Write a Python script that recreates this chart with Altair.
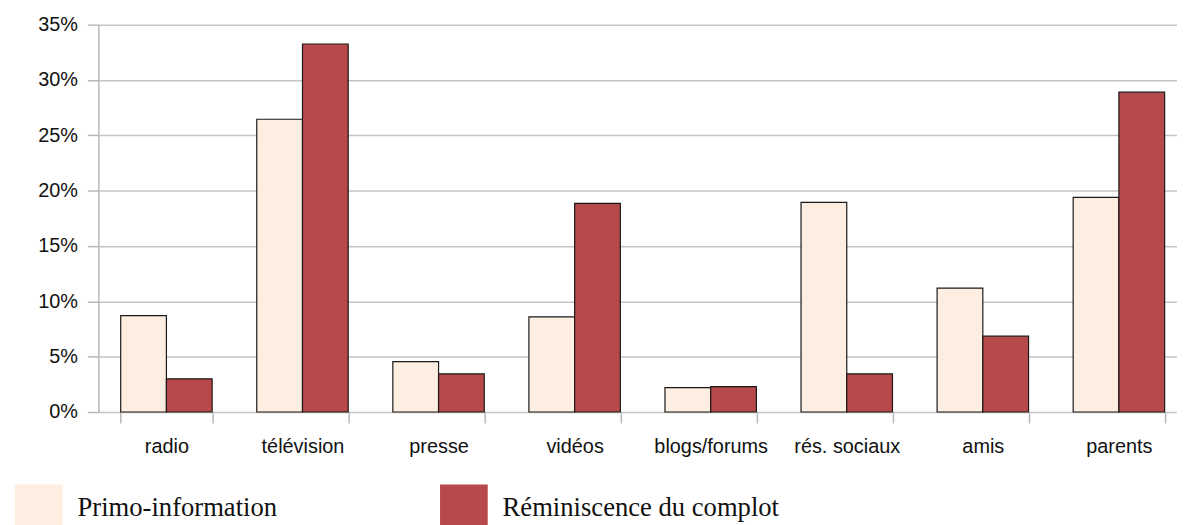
import altair as alt
import pandas as pd

categories = ["radio", "télévision", "presse", "vidéos", "blogs/forums", "rés. sociaux", "amis", "parents"]
series = ["Primo-information", "Réminiscence du complot"]
primo = [8.7, 26.45, 4.55, 8.6, 2.2, 18.95, 11.2, 19.4]
reminiscence = [3.0, 33.25, 3.45, 18.85, 2.3, 3.45, 6.85, 28.9]
y_ticks = [0, 5, 10, 15, 20, 25, 30, 35]
colors = ["#fdeee1", "#b8494a"]

rows = []
for c, a, b in zip(categories, primo, reminiscence):
    rows.append({"cat": c, "serie": series[0], "val": a})
    rows.append({"cat": c, "serie": series[1], "val": b})
df = pd.DataFrame(rows)

chart = alt.Chart(df).mark_bar(stroke="#1a1a1a", strokeWidth=1.2).encode(
    x=alt.X("cat:N", sort=categories, title=None,
            scale=alt.Scale(range=[0, 1096], paddingInner=0.328, paddingOuter=0.164),
            axis=alt.Axis(labelAngle=0, domain=False, ticks=True, tickBand="extent",
                          tickSize=11, tickColor="#b8b8b8", tickWidth=1.5,
                          labelFont="Liberation Sans", labelFontSize=20, labelColor="#111111",
                          labelPadding=14, grid=False)),
    xOffset=alt.XOffset("serie:N", sort=series),
    y=alt.Y("val:Q", title=None,
            scale=alt.Scale(domain=[0, 35], nice=False),
            axis=alt.Axis(values=y_ticks, labelExpr="datum.value + '%'",
                          domain=True, domainColor="#b8b8b8", domainWidth=1.5,
                          tickSize=11, tickColor="#b8b8b8", tickWidth=1.5,
                          grid=True, gridColor="#c4c4c4", gridWidth=1.5,
                          labelFont="Liberation Sans", labelFontSize=20, labelColor="#111111",
                          labelPadding=10)),
    color=alt.Color("serie:N", sort=series,
                    scale=alt.Scale(domain=series, range=colors),
                    legend=alt.Legend(title=None, orient="none", direction="horizontal",
                                      legendX=-84, legendY=463, padding=0,
                                      symbolType="square", symbolSize=2304,
                                      symbolStrokeWidth=0, symbolOpacity=1,
                                      labelFont="Liberation Serif", labelFontSize=26.8,
                                      labelColor="#111111", labelOffset=15,
                                      columnPadding=164, labelLimit=400)),
).properties(
    width=1086, height=390,
    autosize=alt.AutoSizeParams(type="none"),
    padding={"left": 91, "top": 15, "right": 0, "bottom": 112},
).configure_view(stroke=None)

chart.save("out.html", embed_options={"renderer": "svg", "actions": False})
